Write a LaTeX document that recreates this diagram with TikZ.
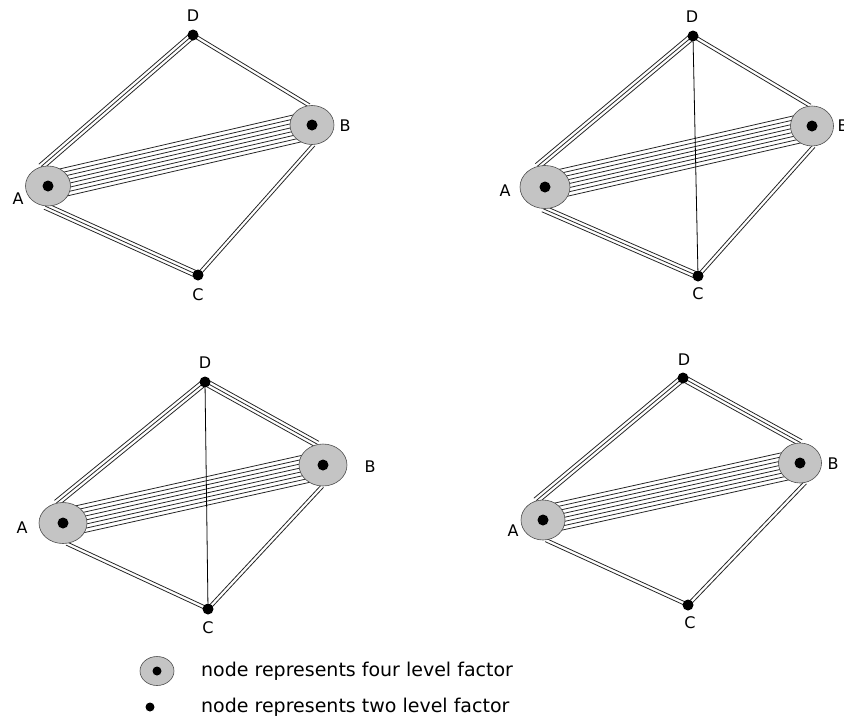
\documentclass[tikz,border=0pt]{standalone}
\usepackage{fontspec}
\setmainfont{DejaVu Sans}
\usetikzlibrary{calc}
\usetikzlibrary{shapes.geometric}
\usetikzlibrary{backgrounds}

\definecolor{discgray}{RGB}{196,196,196}
\tikzset{
  four/.style={draw=black!70, line width=0.6pt, fill=discgray, ellipse,
    minimum width=44pt, minimum height=39pt, inner sep=0pt,
    path picture={\fill[black] (path picture bounding box.center) circle (#1);}},
  four/.default=5.5pt,
  two/.style={circle, fill=black, minimum size=11pt, inner sep=0pt},
  strand/.style={draw=black!85, line width=0.8pt},
  tag/.style={font=\fontsize{16}{16}\selectfont, inner sep=0pt},
  legend/.style={font=\fontsize{19}{19}\selectfont, anchor=west, inner sep=0pt}
}
% #1 gap, #2 from, #3 to, #4 number of strands
\newcommand{\strands}[4][3.3]{%
  \foreach \k in {1,...,#4} {
    \pgfmathsetmacro{\off}{(\k-(#4+1)/2)*#1}
    \draw[strand] ($(#2)!\off pt!90:(#3)$) -- ($(#3)!\off pt!-90:(#2)$);
  }}

\begin{document}
\begin{tikzpicture}[x=1pt, y=-1pt]
  \useasboundingbox (0,0) rectangle (844,721);

  % top left
  \node[four, minimum width=45pt, minimum height=40pt] (A1) at (48,186) {};
  \node[four] (B1) at (312,125) {};
  \node[two] (C1) at (198,275) {};
  \node[two] (D1) at (193,35) {};
  \node[tag] (lA1) at (18,199) {A};
  \node[tag] (lB1) at (345,126) {B};
  \node[tag] (lC1) at (198,295) {C};
  \node[tag] (lD1) at (193,16) {D};

  % top right
  \node[four, minimum width=50pt, minimum height=43pt] (A2) at (545,187) {};
  \node[four, minimum width=43pt, minimum height=40pt] (B2) at (812,126) {};
  \node[two] (C2) at (698,276) {};
  \node[two] (D2) at (693,36) {};
  \node[tag] (lA2) at (505,191) {A};
  \node[tag] (lB2) at (843,126) {B};
  \node[tag] (lC2) at (698,294) {C};
  \node[tag] (lD2) at (692,17) {D};

  % bottom left
  \node[four, minimum width=48pt, minimum height=41pt] (A3) at (63,523) {};
  \node[four, minimum width=48pt, minimum height=42pt] (B3) at (323,465) {};
  \node[two] (C3) at (208,609) {};
  \node[two] (D3) at (205,382) {};
  \node[tag] (lA3) at (22,528) {A};
  \node[tag] (lB3) at (370,467) {B};
  \node[tag] (lC3) at (208,628) {C};
  \node[tag] (lD3) at (205,363) {D};

  % bottom right
  \node[four, minimum width=44pt, minimum height=40pt] (A4) at (543,520) {};
  \node[four, minimum width=43pt, minimum height=40pt] (B4) at (800,463) {};
  \node[two] (C4) at (688,605) {};
  \node[two] (D4) at (683,378) {};
  \node[tag] (lA4) at (513,531) {A};
  \node[tag] (lB4) at (833,464) {B};
  \node[tag] (lC4) at (690,623) {C};
  \node[tag] (lD4) at (684,360) {D};

  \begin{scope}[on background layer]
    \strands[4]{A1}{B1}{8}
    \strands{A1.110}{D1}{3}
    \strands{D1}{B1.98}{2}
    \strands{A1.262}{C1}{3}
    \strands{C1}{B1.275}{2}

    \strands[4]{A2}{B2}{8}
    \strands{A2.110}{D2}{3}
    \strands{D2}{B2.95}{2}
    \strands{A2.265}{C2}{3}
    \strands{C2}{B2.275}{2}
    \draw[line width=0.8pt] (D2) -- (C2);

    \strands[4]{A3}{B3}{8}
    \strands{A3.108}{D3}{3}
    \strands{D3}{B3.105}{3}
    \strands{A3.280}{C3}{2}
    \strands{C3}{B3.268}{2}
    \draw[line width=0.8pt] (D3) -- (C3);

    \strands[4]{A4}{B4}{8}
    \strands{A4.110}{D4}{3}
    \strands{D4}{B4.88}{3}
    \strands{A4.278}{C4}{2}
    \strands{C4}{B4.285}{2}
  \end{scope}

  % key
  \node[four=4.5pt, minimum width=34pt, minimum height=29pt] (keyfour) at (157,671) {};
  \node[legend] (txtfour) at (201,671) {node represents four level factor};
  \node[two, minimum size=9pt] (keytwo) at (150,707) {};
  \node[legend] (txttwo) at (201,707) {node represents two level factor};
\end{tikzpicture}
\end{document}
